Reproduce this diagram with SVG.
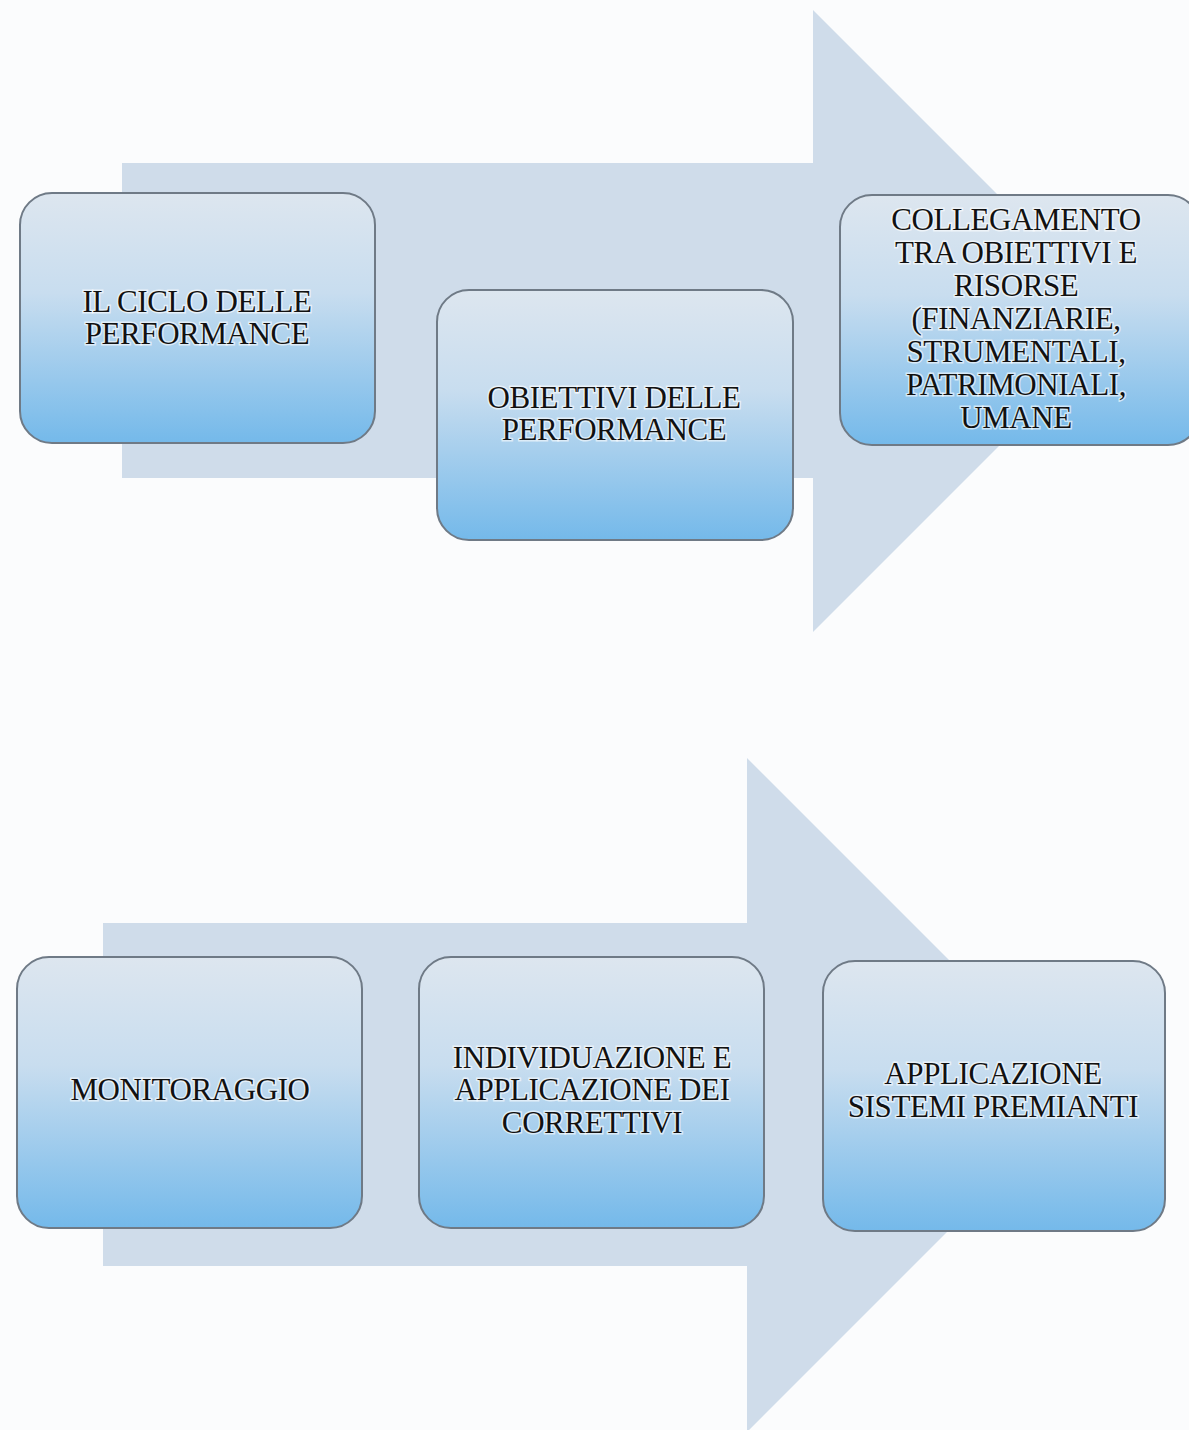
<svg xmlns="http://www.w3.org/2000/svg" width="1189" height="1430" viewBox="0 0 1189 1430">
<defs>
<linearGradient id="boxg" x1="0" y1="0" x2="0" y2="1">
<stop offset="0" stop-color="#dde6ef"/>
<stop offset="0.4" stop-color="#c8ddef"/>
<stop offset="1" stop-color="#74b9ea"/>
</linearGradient>
<style>
.arrow{fill:#cfdcea;}
.box{fill:url(#boxg);stroke:#6f7a86;stroke-width:2;}
.lbl{font-family:"Liberation Serif","DejaVu Serif",serif;font-size:31px;fill:#111111;text-anchor:middle;stroke:#ffffff;stroke-width:3;stroke-opacity:0.6;paint-order:stroke;letter-spacing:-0.4px;}
</style>
</defs>
<rect x="0" y="0" width="1189" height="1430" fill="#fbfcfd"/>
<g id="connectors">
<path class="arrow" d="M122,163 L813,163 L813,10 L1124,321 L813,632 L813,478 L122,478 Z"/>
<path class="arrow" d="M103,923 L747,923 L747,758 L1084,1095 L747,1432 L747,1266 L103,1266 Z"/>
</g>
<g id="node1">
<rect class="box" x="20" y="193" width="355" height="250" rx="32"/>
<text class="lbl" x="197" y="312">IL CICLO DELLE</text>
<text class="lbl" x="197" y="344">PERFORMANCE</text>
</g>
<g id="node2">
<rect class="box" x="437" y="290" width="356" height="250" rx="32"/>
<text class="lbl" x="614" y="408">OBIETTIVI DELLE</text>
<text class="lbl" x="614" y="440">PERFORMANCE</text>
</g>
<g id="node3">
<rect class="box" x="840" y="195" width="360" height="250" rx="32"/>
<text class="lbl" x="1016" y="230">COLLEGAMENTO</text>
<text class="lbl" x="1016" y="263">TRA OBIETTIVI E</text>
<text class="lbl" x="1016" y="296">RISORSE</text>
<text class="lbl" x="1016" y="329">(FINANZIARIE,</text>
<text class="lbl" x="1016" y="362">STRUMENTALI,</text>
<text class="lbl" x="1016" y="395">PATRIMONIALI,</text>
<text class="lbl" x="1016" y="428">UMANE</text>
</g>
<g id="node4">
<rect class="box" x="17" y="957" width="345" height="271" rx="32"/>
<text class="lbl" x="190" y="1100">MONITORAGGIO</text>
</g>
<g id="node5">
<rect class="box" x="419" y="957" width="345" height="271" rx="32"/>
<text class="lbl" x="592" y="1068">INDIVIDUAZIONE E</text>
<text class="lbl" x="592" y="1100">APPLICAZIONE DEI</text>
<text class="lbl" x="592" y="1133">CORRETTIVI</text>
</g>
<g id="node6">
<rect class="box" x="823" y="961" width="342" height="270" rx="32"/>
<text class="lbl" x="993" y="1084">APPLICAZIONE</text>
<text class="lbl" x="993" y="1117">SISTEMI PREMIANTI</text>
</g>
</svg>
